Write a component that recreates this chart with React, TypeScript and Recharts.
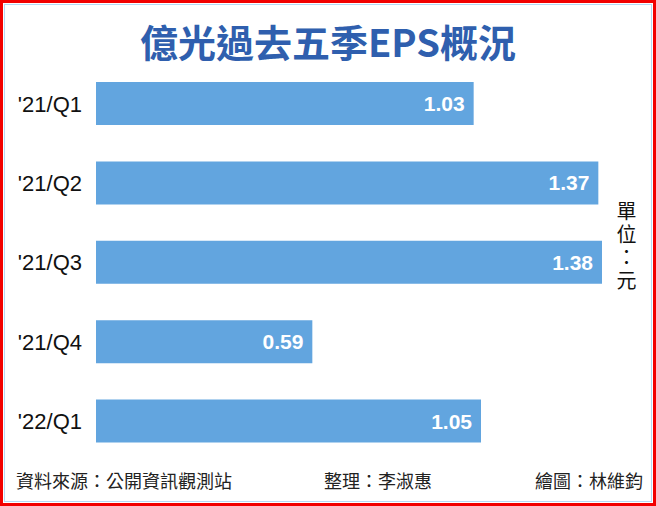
import { BarChart, Bar, XAxis, YAxis, LabelList } from "recharts";

const quarters = ["'21/Q1", "'21/Q2", "'21/Q3", "'21/Q4", "'22/Q1"];
const eps = [1.03, 1.37, 1.38, 0.59, 1.05];
const unitLabel = "單位：元";

const data = quarters.map((q, i) => ({ q, eps: eps[i] }));

const cjk = '"Noto Sans CJK TC", "Noto Sans CJK SC", sans-serif';

export default function App() {
  return (
    <div
      style={{
        position: "fixed",
        left: 0,
        top: 0,
        width: 656,
        height: 506,
        boxSizing: "border-box",
        border: "3px solid #f20000",
        padding: 1,
        background: "#fff",
      }}
    >
      <div
        style={{
          width: "100%",
          height: "100%",
          boxSizing: "border-box",
          border: "1.5px solid #b3d9f5",
        }}
      />
      <div
        style={{
          position: "absolute",
          left: 0,
          top: 14,
          width: 650,
          textAlign: "center",
          fontFamily: cjk,
          fontWeight: 700,
          fontSize: 38,
          color: "#2f5fae",
          lineHeight: "48px",
        }}
      >
        億光過去五季EPS概況
      </div>

      <div style={{ position: "absolute", left: -3, top: -3 }}>
        <BarChart
          width={656}
          height={506}
          data={data}
          layout="vertical"
          margin={{ top: 64, right: 10, bottom: 45, left: 0 }}
        >
          <XAxis type="number" domain={[0, 1.5]} hide />
          <YAxis
            type="category"
            dataKey="q"
            width={96}
            axisLine={false}
            tickLine={false}
            tickSize={0}
            tickMargin={14}
            tick={{ fill: "#111", fontSize: 22, fontFamily: "Liberation Sans, sans-serif" }}
          />
          <Bar dataKey="eps" fill="#62a5df" barSize={43} isAnimationActive={false}>
            <LabelList
              dataKey="eps"
              position="insideRight"
              offset={9}
              fill="#fff"
              fontSize={21}
              fontWeight={700}
              fontFamily="Liberation Sans, sans-serif"
              formatter={(v: number) => v.toFixed(2)}
            />
          </Bar>
        </BarChart>
      </div>

      <div
        style={{
          position: "absolute",
          left: 610,
          top: 198,
          width: 26,
          height: 100,
          writingMode: "vertical-rl",
          textOrientation: "upright",
          letterSpacing: 3,
          lineHeight: "26px",
          fontFamily: cjk,
          fontSize: 20,
          color: "#111",
        }}
      >
        {unitLabel}
      </div>

      <div
        style={{
          position: "absolute",
          left: 0,
          top: 464,
          width: 650,
          height: 26,
          fontFamily: cjk,
          fontSize: 18,
          lineHeight: "26px",
          color: "#222",
        }}
      >
        <span style={{ position: "absolute", left: 13 }}>資料來源：公開資訊觀測站</span>
        <span style={{ position: "absolute", left: 321 }}>整理：李淑惠</span>
        <span style={{ position: "absolute", right: 10 }}>繪圖：林維鈞</span>
      </div>
    </div>
  );
}
